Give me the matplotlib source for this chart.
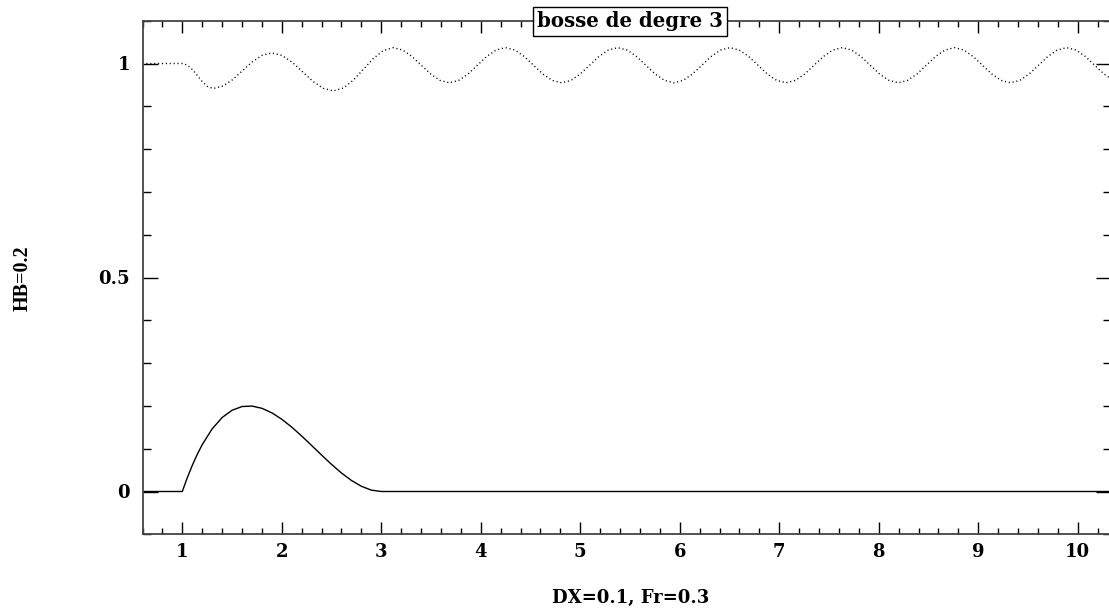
import numpy as np
import matplotlib
matplotlib.use("Agg")
import matplotlib.pyplot as plt
from matplotlib.ticker import MultipleLocator

# bump profile (degree 3)
bump_x = [0.6, 1.0, 1.05, 1.1, 1.15, 1.2, 1.3, 1.4, 1.5, 1.6, 1.7, 1.8, 1.9,
          2.0, 2.1, 2.2, 2.3, 2.4, 2.5, 2.6, 2.7, 2.8, 2.9, 3.0, 10.5]
bump_y = [0.0, 0.0, 0.0321, 0.0609, 0.0866, 0.1094, 0.1463, 0.1728, 0.1898,
          0.1985, 0.1996, 0.1944, 0.1838, 0.1688, 0.1504, 0.1296, 0.1075,
          0.0851, 0.0633, 0.0432, 0.0258, 0.0122, 0.0032, 0.0, 0.0]

# free surface
surf_x = [0.6, 1.0, 1.05, 1.1, 1.15, 1.2, 1.25, 1.31,
          1.408, 1.507, 1.605, 1.703, 1.802, 1.90,
          2.003, 2.107, 2.21, 2.313, 2.417, 2.52,
          2.62, 2.72, 2.82, 2.92, 3.02, 3.12,
          3.214, 3.308, 3.402, 3.496, 3.59, 3.684, 3.778, 3.872, 3.966, 4.06,
          4.154, 4.248, 4.342, 4.436, 4.53, 4.624, 4.718, 4.812, 4.906, 5.0,
          5.094, 5.188, 5.282, 5.376, 5.47, 5.564, 5.658, 5.752, 5.846, 5.94,
          6.034, 6.128, 6.222, 6.316, 6.41, 6.504, 6.598, 6.692, 6.786, 6.88,
          6.974, 7.068, 7.162, 7.256, 7.35, 7.444, 7.538, 7.632, 7.726, 7.82,
          7.914, 8.008, 8.102, 8.196, 8.29, 8.384, 8.478, 8.572, 8.666, 8.76,
          8.854, 8.948, 9.042, 9.136, 9.23, 9.324, 9.418, 9.512, 9.606, 9.7,
          9.794, 9.888, 9.982, 10.076, 10.17, 10.264, 10.358, 10.452]
surf_y = [1.0, 1.0, 0.9964, 0.9862, 0.9723, 0.9578, 0.9469, 0.9416,
          0.9472, 0.9624, 0.9832, 1.0039, 1.0191, 1.0247,
          1.0188, 1.0025, 0.9804, 0.9582, 0.9419, 0.936,
          0.9428, 0.9612, 0.9865, 1.0118, 1.0302, 1.037,
          1.0315, 1.0165, 0.996, 0.9755, 0.9605, 0.955, 0.9605, 0.9755, 0.996, 1.0165,
          1.0315, 1.037, 1.0315, 1.0165, 0.996, 0.9755, 0.9605, 0.955, 0.9605, 0.9755,
          0.996, 1.0165, 1.0315, 1.037, 1.0315, 1.0165, 0.996, 0.9755, 0.9605, 0.955,
          0.9605, 0.9755, 0.996, 1.0165, 1.0315, 1.037, 1.0315, 1.0165, 0.996, 0.9755,
          0.9605, 0.955, 0.9605, 0.9755, 0.996, 1.0165, 1.0315, 1.037, 1.0315, 1.0165,
          0.996, 0.9755, 0.9605, 0.955, 0.9605, 0.9755, 0.996, 1.0165, 1.0315, 1.037,
          1.0315, 1.0165, 0.996, 0.9755, 0.9605, 0.955, 0.9605, 0.9755, 0.996, 1.0165,
          1.0315, 1.037, 1.0315, 1.0165, 0.996, 0.9755, 0.9605, 0.955]

xticks = [1, 2, 3, 4, 5, 6, 7, 8, 9, 10]
yticks = [0, 0.5, 1]
ytick_labels = ["0", "0.5", "1"]

title = "bosse de degre 3"
xlabel = "DX=0.1, Fr=0.3"
ylabel = "HB=0.2"

fnt = {"family": "DejaVu Serif", "weight": "bold", "size": 13}

fig = plt.figure(figsize=(11.09, 6.11), dpi=100)
ax = fig.add_axes([142.5 / 1109, 76.7 / 611, 968.5 / 1109, 513.6 / 611])

ax.plot(bump_x, bump_y, color="black", lw=1.0)
ax.plot(surf_x, surf_y, color="black", lw=1.0, linestyle=(0, (0.8, 2.0)))

ax.set_xlim(0.6, 10.334)
ax.set_ylim(-0.1, 1.1)

ax.set_xticks(xticks)
ax.set_xticklabels([str(t) for t in xticks], fontdict=fnt)
ax.set_yticks(yticks)
ax.set_yticklabels(ytick_labels, fontdict=fnt)
ax.xaxis.set_minor_locator(MultipleLocator(0.2))
ax.yaxis.set_minor_locator(MultipleLocator(0.1))

ax.tick_params(axis="x", which="major", direction="in", length=8.5, width=1,
               top=True, bottom=True, pad=6, colors="black")
ax.tick_params(axis="x", which="minor", direction="in", length=4.3, width=1,
               top=True, bottom=True)
ax.tick_params(axis="y", which="major", direction="in", length=10.5, width=1,
               left=True, right=True, pad=9)
ax.tick_params(axis="y", which="minor", direction="in", length=5.5, width=1,
               left=True, right=True)

for s in ax.spines.values():
    s.set_color("#444444")
    s.set_linewidth(1.3)

ax.text(0.5035, 0.9985, title, transform=ax.transAxes, ha="center", va="center",
        family="DejaVu Serif", weight="bold", size=14.2,
        bbox=dict(boxstyle="square,pad=0.22", facecolor="white",
                  edgecolor="black", linewidth=1))

fig.text(630.8 / 1109, 1 - 598 / 611, xlabel, ha="center", va="center",
         fontdict=fnt)
fig.text(22.5 / 1109, 1 - 278 / 611, ylabel, ha="center", va="center",
         rotation=90, family="Liberation Serif", weight="bold", size=14.5)

fig.savefig("out.png", dpi=100)
